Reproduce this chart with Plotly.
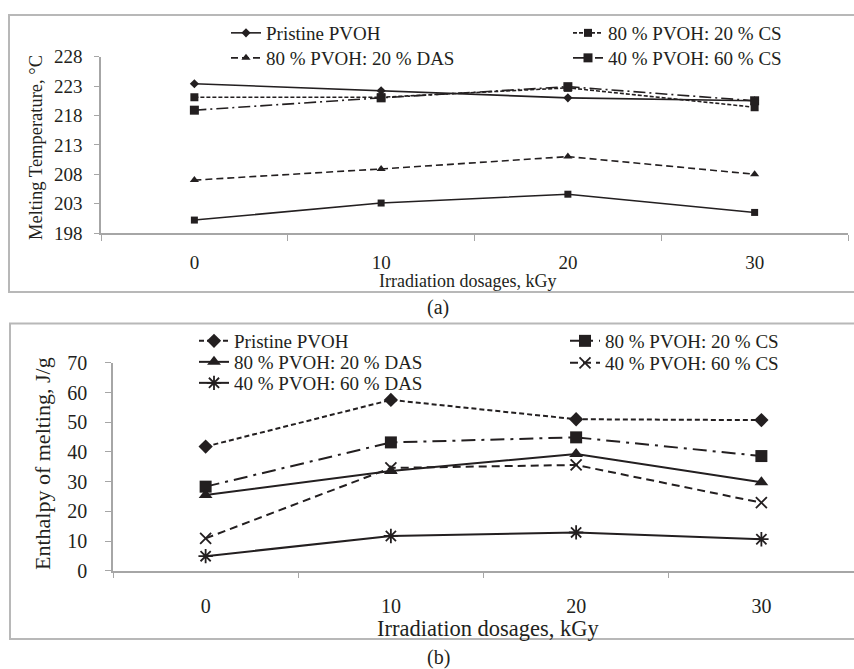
import plotly.graph_objects as go

W, H = 854, 669


def px(x):
    return x / W


def py(y):
    return 1 - y / H


doses = ["0", "10", "20", "30"]

# (a) melting temperature, °C
tm_pristine = [223.4, 222.2, 221.0, 220.5]
tm_cs80 = [221.1, 221.1, 222.7, 219.4]
tm_das80 = [207.0, 208.9, 211.0, 208.0]
tm_cs40 = [218.9, 221.0, 222.9, 220.5]
tm_das40 = [200.2, 203.1, 204.6, 201.5]

# (b) enthalpy of melting, J/g
hm_pristine = [41.8, 57.5, 51.0, 50.7]
hm_cs80 = [28.3, 43.2, 44.9, 38.6]
hm_das80 = [25.5, 33.6, 39.3, 29.8]
hm_cs40 = [10.9, 34.6, 35.6, 22.9]
hm_das40 = [4.9, 11.7, 12.9, 10.6]

names = {
    "pristine": "Pristine PVOH",
    "cs80": "80 % PVOH: 20 % CS",
    "das80": "80 % PVOH: 20 % DAS",
    "cs40": "40 % PVOH: 60 % CS",
    "das40": "40 % PVOH: 60 % DAS",
}

INK = "#231f20"
AXIS = "#a6a6a6"
FONT = "Liberation Serif, Times New Roman, serif"

fig = go.Figure()


def add(x, y, name, xa, ya, dash, symbol, size, width, legend=None, mline=0):
    fig.add_trace(go.Scatter(
        x=x, y=y, name=name, xaxis=xa, yaxis=ya, mode="lines+markers",
        line=dict(color=INK, width=width, dash=dash),
        marker=dict(symbol=symbol, size=size, color=INK,
                    line=dict(color=INK, width=mline)),
        showlegend=legend is not None, legend=legend or "legend",
        cliponaxis=False,
    ))


# panel (a)
add(doses, tm_pristine, names["pristine"], "x", "y", "solid", "diamond", 7, 1.6, "legend")
add(doses, tm_cs80, names["cs80"], "x", "y", "4px,2px", "square", 8, 1.6, "legend3")
add(doses, tm_das80, names["das80"], "x", "y", "7px,4px", "triangle-up", 8, 1.6, "legend2")
add(doses, tm_cs40, names["cs40"], "x", "y", "12px,4px,2px,4px", "square", 9, 1.6, "legend4")
add(doses, tm_das40, names["das40"], "x", "y", "solid", "square", 7, 1.6, None)

# panel (b)
add(doses, hm_pristine, names["pristine"], "x2", "y2", "5px,3px", "diamond", 11, 2, "legend5")
add(doses, hm_cs80, names["cs80"], "x2", "y2", "14px,6px,3px,6px", "square", 12, 2, "legend8")
add(doses, hm_das80, names["das80"], "x2", "y2", "solid", "triangle-up", 12, 2, "legend6")
add(doses, hm_cs40, names["cs40"], "x2", "y2", "8px,5px", "x-thin-open", 11, 2, "legend9", 1.8)
add(doses, hm_das40, names["das40"], "x2", "y2", "solid", "asterisk-open", 12, 2, "legend7", 1.8)

xcommon = dict(type="category", tickson="boundaries", ticks="outside",
               range=[-0.5, 3.5], autorange=False,
               tickcolor=AXIS, showline=True, linecolor=AXIS, linewidth=1.5,
               showgrid=False, zeroline=False, automargin=False)
ycommon = dict(ticks="outside", tickcolor=AXIS, showline=True, linecolor=AXIS,
               linewidth=1.5, showgrid=False, zeroline=False, automargin=False)

legends = {}


def leg(key, x, y):
    legends[key] = dict(x=px(x), y=py(y), xanchor="left", yanchor="middle",
                        bgcolor="rgba(0,0,0,0)", borderwidth=0,
                        font=dict(family=FONT, size=19, color=INK))


leg("legend", 226, 33)
leg("legend2", 226, 58)
leg("legend3", 568, 33)
leg("legend4", 568, 58)
leg("legend5", 194, 341)
leg("legend6", 194, 362)
leg("legend7", 194, 383)
leg("legend8", 565, 341)
leg("legend9", 565, 363)

box = dict(type="rect", xref="paper", yref="paper",
           line=dict(color="#b8b8b8", width=2), fillcolor="rgba(0,0,0,0)")


def note(text, x, y, size, angle=0):
    return dict(text=text, x=px(x), y=py(y), xref="paper", yref="paper",
                xanchor="center", yanchor="middle", showarrow=False,
                textangle=angle, font=dict(family=FONT, size=size, color=INK))


fig.update_layout(
    width=W, height=H, autosize=False,
    margin=dict(l=0, r=0, t=0, b=0),
    paper_bgcolor="white", plot_bgcolor="white",
    font=dict(family=FONT, color=INK, size=19),
    xaxis=dict(xcommon, domain=[px(101), px(848)], anchor="y", ticklen=6,
               tickfont=dict(family=FONT, size=19, color=INK), ticklabelstandoff=11),
    yaxis=dict(ycommon, domain=[py(233), py(56.7)], anchor="x", range=[198, 228],
               tickvals=[198, 203, 208, 213, 218, 223, 228], ticklen=5,
               tickfont=dict(family=FONT, size=19, color=INK), ticklabelstandoff=8),
    xaxis2=dict(xcommon, domain=[px(113), 1.0], anchor="y2", ticklen=6,
                tickfont=dict(family=FONT, size=20, color=INK), ticklabelstandoff=17),
    yaxis2=dict(ycommon, domain=[py(570.7), py(362.8)], anchor="x2", range=[0, 70],
                tickvals=[0, 10, 20, 30, 40, 50, 60, 70], ticklen=6,
                tickfont=dict(family=FONT, size=20, color=INK), ticklabelstandoff=14),
    shapes=[
        dict(box, x0=px(9), x1=px(900), y0=py(292), y1=py(15)),
        dict(box, x0=px(10), x1=px(900), y0=py(639), y1=py(323.5)),
    ],
    annotations=[
        note("Irradiation dosages, kGy", 467, 281, 18),
        note("Melting Temperature, °C", 36, 148, 18.5, -90),
        note("(a)", 438, 307, 20),
        note("Irradiation dosages, kGy", 488, 628, 22.5),
        note("Enthalpy of melting, J/g", 42, 464, 22, -90),
        note("(b)", 438, 657, 20),
    ],
    **legends,
)

fig.write_html("out.html")
